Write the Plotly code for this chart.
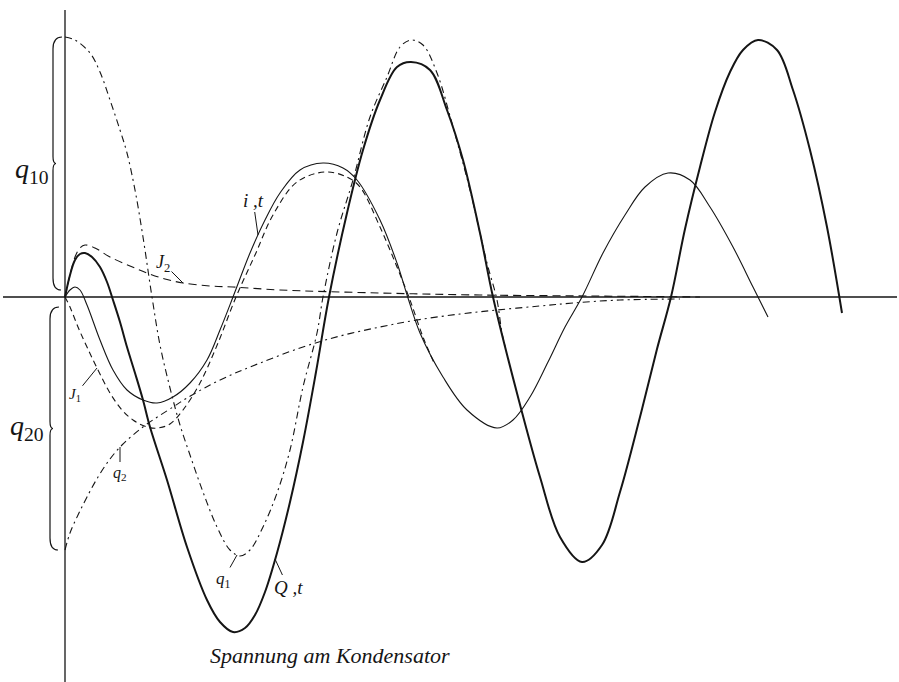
import plotly.graph_objects as go

# Zeitachse t (Zeichnungseinheiten) und Amplituden

# Q,t  (Spannung am Kondensator, dick ausgezogen)
Q_t = [0, 5, 10, 15, 20, 27, 35, 42, 48, 55, 62, 70, 78, 85, 102, 122, 142, 155, 168, 180,
       190, 200, 212, 225, 238, 251, 264, 282, 298, 315, 332, 346, 365, 382, 398, 415, 428, 453, 475, 495,
       517, 537, 555, 575, 592, 606, 620, 635, 650, 665, 678, 693, 712, 728, 745, 762, 777]
Q_v = [0, 22, 37, 43, 44, 40, 30, 15, -3, -25, -50, -76, -103, -130, -183, -250, -303, -325, -335, -331,
       -318, -295, -256, -205, -145, -75, 0, 84, 147, 197, 230, 235, 227, 187, 137, 64, 0, -100, -180, -240,
       -265, -248, -195, -120, -52, 0, 68, 130, 185, 225, 247, 257, 247, 207, 147, 70, -16]

# q1 (strichpunktiert)
q1_t = [0, 10, 25, 35, 45, 55, 62, 70, 78, 87, 95, 105, 115, 125, 138, 152, 165, 175, 185, 198,
        212, 225, 238, 252, 258, 272, 288, 305, 322, 335, 346, 358, 372, 388, 405, 422, 432, 437, 441]
q1_v = [260, 257, 244, 225, 197, 167, 144, 107, 60, 0, -48, -91, -128, -158, -195, -230, -253, -259, -253, -230,
        -196, -153, -90, -36, 0, 64, 117, 180, 220, 250, 257, 252, 224, 170, 107, 34, -3, -36, -53]

# q2 (strichpunktiert)
q2_t = [0, 5, 13, 22, 33, 45, 57, 68, 82, 108, 122, 145, 168, 185, 235, 275, 315, 352, 395, 432, 475, 508, 555, 615]
q2_v = [-253, -236, -218, -200, -180, -162, -148, -138, -127, -110, -101, -88, -77, -70, -51, -39, -30, -23, -17, -13, -9, -6, -3, -2]

# i,t (Strom, duenn ausgezogen)
i_t = [0, 5, 10, 15, 22, 35, 48, 62, 78, 92, 108, 125, 142, 155, 168, 185, 200, 215, 235, 258,
       278, 292, 315, 332, 343, 355, 378, 402, 432, 448, 465, 483, 500, 517, 538, 560, 580, 603, 625, 645, 668, 688, 703]
i_v = [0, 7, 10, 7, -8, -43, -73, -93, -103, -106, -100, -86, -63, -33, 0, 44, 77, 104, 127, 134,
       129, 117, 77, 34, -1, -36, -80, -113, -131, -123, -100, -65, -30, 0, 44, 82, 110, 124, 117, 90, 50, 10, -20]

# J1 (gestrichelt)
j1_t = [0, 5, 13, 22, 33, 45, 57, 68, 82, 93, 105, 118, 135, 153, 171, 190, 208, 232, 260, 282, 295, 315, 332, 345, 358, 370]
j1_v = [0, -10, -30, -50, -73, -96, -113, -123, -130, -131, -127, -113, -86, -46, 0, 42, 82, 115, 125, 120, 110, 70, 30, -3, -40, -68]

# J2 (gestrichelt)
j2_t = [0, 5, 10, 15, 20, 30, 45, 65, 82, 100, 118, 145, 168, 215, 315, 415, 528, 635]
j2_v = [0, 22, 40, 49, 52, 49, 40, 31, 24, 18, 14, 11, 10, 7, 4, 2, 1, 0]

INK = '#151515'
FONT = 'Liberation Serif'

fig = go.Figure()

def kurve(t, v, width=1.0, dash='solid'):
    fig.add_trace(go.Scatter(x=t, y=v, mode='lines', line_shape='spline',
                             line=dict(color=INK, width=width, dash=dash),
                             hoverinfo='skip', showlegend=False))

kurve(q1_t, q1_v, 1.1, '7px,4px,2px,4px')
kurve(q2_t, q2_v, 1.1, '7px,4px,2px,4px')
kurve(j1_t, j1_v, 1.1, '6px,4px')
kurve(j2_t, j2_v, 1.1, '8px,5px')
kurve(i_t, i_v, 1.1)
kurve(Q_t, Q_v, 2.0)

# Achsen
fig.add_shape(type='line', x0=-62, x1=832, y0=0, y1=0, line=dict(color=INK, width=1.3))
fig.add_shape(type='line', x0=0, x1=0, y0=-385, y1=287, line=dict(color=INK, width=1.3))

def klammer(x, y0, y1):
    # geschweifte Klammer von y0 (oben) bis y1 (unten)
    m = (y0 + y1) / 2
    s = 1 if y0 > y1 else -1
    return (f'M {x+9},{y0} Q {x},{y0} {x},{y0 - s*12} L {x},{m + s*7} '
            f'Q {x},{m} {x+3},{m} Q {x},{m} {x},{m - s*7} '
            f'L {x},{y1 + s*12} Q {x},{y1} {x+8},{y1}')

fig.add_shape(type='path', path=klammer(-12, q1_v[0], 7), line=dict(color=INK, width=1.2))
fig.add_shape(type='path', path=klammer(-15, -10, q2_v[0]), line=dict(color=INK, width=1.2))

def label(x, y, text, size=20, ax=None, ay=None):
    kw = dict(x=x, y=y, xref='x', yref='y', text=text,
              font=dict(family=FONT, size=size, color=INK))
    if ax is None:
        kw.update(showarrow=False)
    else:
        kw.update(showarrow=True, arrowhead=0, arrowwidth=1, arrowcolor=INK, ax=ax, ay=ay)
    fig.add_annotation(**kw)

label(-33, 127, '<i>q</i><sub>10</sub>', 28)
label(-38, -130, '<i>q</i><sub>20</sub>', 28)
label(193, 62, '<i>i ,t</i>', 19, ax=-5, ay=-35)
label(118, 14, '<i>J</i><sub>2</sub>', 18, ax=-20, ay=-20)
label(32, -71, '<i>J</i><sub>1</sub>', 15, ax=-22, ay=27)
label(55, -150, '<i>q</i><sub>2</sub>', 16, ax=0, ay=26)
label(172, -258, '<i>q</i><sub>1</sub>', 17, ax=-14, ay=25)
label(210, -262, '<i>Q ,t</i>', 19, ax=13, ay=28)
label(265, -358, '<i>Spannung am Kondensator</i>', 22)

fig.update_layout(
    width=899, height=682,
    margin=dict(l=0, r=0, t=0, b=0),
    paper_bgcolor='white', plot_bgcolor='white',
    xaxis=dict(range=[-65, 834], visible=False, fixedrange=True),
    yaxis=dict(range=[-385, 297], visible=False, fixedrange=True),
    hovermode=False,
)

# Seitenrand entfernen, damit die Zeichnung bei (0,0) beginnt
fig.write_html("out.html", config={'displayModeBar': False},
               post_script="document.body.style.margin='0';")
